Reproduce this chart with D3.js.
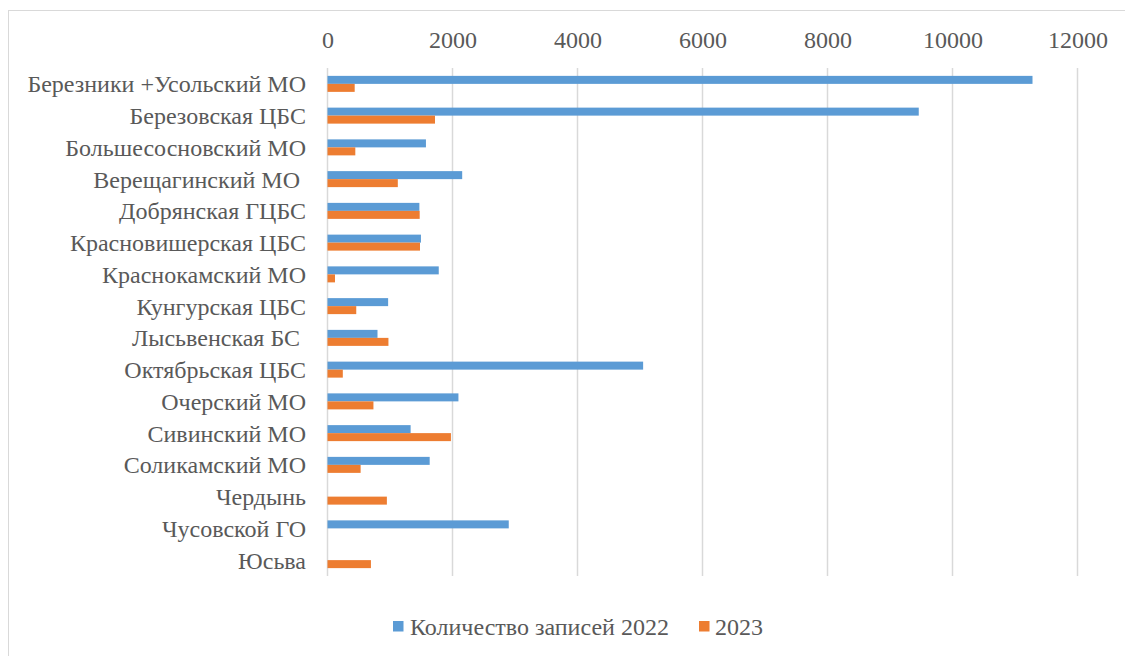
<!DOCTYPE html>
<html><head><meta charset="utf-8">
<script src="https://cdn.jsdelivr.net/npm/d3@7"></script>
<style>html,body{margin:0;padding:0;background:#fff;}svg{display:block;}
svg text{font-family:"Liberation Serif","Times New Roman",Times,"Nimbus Roman","DejaVu Serif",serif;}</style>
</head><body>
<svg id="chart" width="1125" height="656"></svg>
<script>
const categories = ["Березники +Усольский МО","Березовская ЦБС","Большесосновский МО","Верещагинский МО ","Добрянская ГЦБС","Красновишерская ЦБС","Краснокамский МО","Кунгурская ЦБС","Лысьвенская БС ","Октябрьская ЦБС","Очерский МО","Сивинский МО","Соликамский МО","Чердынь","Чусовской ГО","Юсьва"];
const values2022 = [11280, 9460, 1575, 2155, 1470, 1495, 1780, 970, 800, 5050, 2095, 1330, 1635, 0, 2900, 0];
const values2023 = [435, 1720, 445, 1125, 1475, 1480, 120, 460, 975, 245, 735, 1975, 530, 950, 0, 695];
const seriesNames = ["Количество записей 2022", "2023"];
const seriesColors = ["#5B9BD5", "#ED7D31"];
const tickValues = [0, 2000, 4000, 6000, 8000, 10000, 12000];

const svg = d3.select("#chart");
const textColor = "#595959";
const fs = 24;

svg.append("rect").attr("x", 8.5).attr("y", 10.5).attr("width", 1130).attr("height", 660)
  .attr("fill", "none").attr("stroke", "#D9D9D9").attr("stroke-width", 1);

const x = d3.scaleLinear().domain([0, 12000]).range([327.5, 1077.5]);
const y = d3.scaleBand().domain(categories).range([68, 576]);
const inner = d3.scaleBand().domain([0, 1]).range([y.bandwidth()/2 - 8, y.bandwidth()/2 + 8]);

svg.append("g").selectAll("line").data(tickValues).join("line")
  .attr("x1", d => x(d)).attr("x2", d => x(d))
  .attr("y1", 68).attr("y2", 576)
  .attr("stroke", "#D9D9D9").attr("stroke-width", 1.5);

const axis = d3.axisTop(x).tickValues(tickValues).tickSize(0).tickPadding(0).tickFormat(d3.format("d"));
const ag = svg.append("g").attr("transform", "translate(0,48)").call(axis).attr("font-family", null);
ag.select(".domain").remove();
ag.selectAll("text").attr("font-size", fs).attr("fill", textColor).attr("dy", 0);

const rows = categories.map((c, i) => ({c, vals: [values2022[i], values2023[i]]}));
const g = svg.append("g");
rows.forEach(r => {
  r.vals.forEach((v, s) => {
    if (v <= 0) return;
    g.append("rect")
      .attr("x", x(0)).attr("y", y(r.c) + inner(s))
      .attr("width", x(v) - x(0)).attr("height", inner.bandwidth())
      .attr("fill", seriesColors[s]);
  });
});

const yAxis = d3.axisLeft(y).tickSize(0).tickPadding(0);
const yg = svg.append("g").attr("transform", "translate(306,0)").call(yAxis).attr("font-family", null);
yg.select(".domain").remove();
yg.selectAll("text").attr("font-size", fs).attr("fill", textColor)
  .attr("dy", "0.35em").style("white-space", "pre");

const legend = [{x: 393, tx: 410}, {x: 699, tx: 715}];
legend.forEach((l, i) => {
  svg.append("rect").attr("x", l.x).attr("y", 621).attr("width", 10.5).attr("height", 10.5).attr("fill", seriesColors[i]);
  svg.append("text").attr("x", l.tx).attr("y", 635).attr("font-size", fs)
    .attr("fill", textColor).text(seriesNames[i]);
});
</script>
</body></html>
